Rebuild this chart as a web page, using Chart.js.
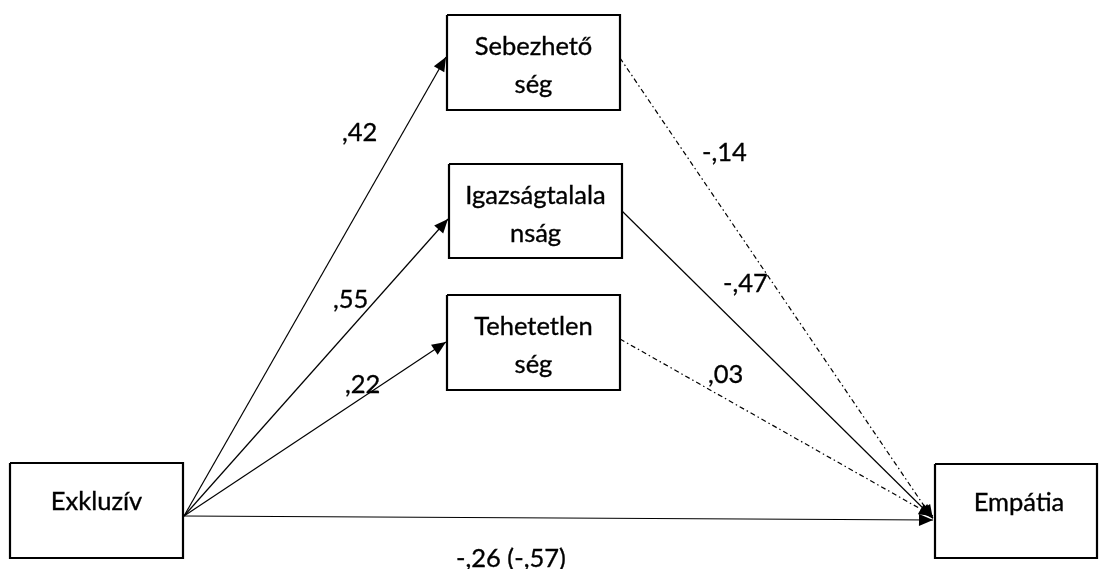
<!DOCTYPE html>
<html>
<head>
<meta charset="utf-8">
<script src="https://cdn.jsdelivr.net/npm/chart.js@4"></script>
<style>
html,body{margin:0;padding:0;background:#fff;}
#c{display:block;}
</style>
</head>
<body>
<canvas id="c" width="1099" height="569"></canvas>
<script>
// ---- data ----
const nodeIds = ['excl', 'seb', 'igaz', 'teh', 'emp'];
const nodeLabels = [['Exkluzív'], ['Sebezhető', 'ség'], ['Igazságtalala', 'nság'], ['Tehetetlen', 'ség'], ['Empátia']];
const pathFrom = ['excl', 'excl', 'excl', 'seb', 'igaz', 'teh', 'excl'];
const pathTo = ['seb', 'igaz', 'teh', 'emp', 'emp', 'emp', 'emp'];
const pathCoef = [',42', ',55', ',22', '-,14', '-,47', ',03', '-,26 (-,57)'];
const pathSignificant = [true, true, true, false, true, false, true];

// ---- layout (diagram coordinates) ----
const boxes = {
  excl: [10, 463, 183, 558],
  seb: [447, 15, 620, 110],
  igaz: [449, 164, 622, 258],
  teh: [447, 295, 620, 390],
  emp: [935, 464, 1097, 558]
};
const pathStart = [[184, 516], [184, 516], [184, 516], [620, 58], [622, 211], [620, 339], [184, 516]];
const pathEnd = [[446, 57], [448, 219], [446, 342], [933, 519], [933, 518], [933, 516], [933, 520]];
const coefPos = [[342, 141], [333, 308], [345, 393], [702, 161], [723, 292], [708, 383], [456, 567]];
const FONT = '25.5px Lato, "Open Sans", sans-serif';

const datasets = [];
nodeIds.forEach(id => {
  const b = boxes[id];
  datasets.push({
    kind: 'box', nodeId: id,
    data: [{x: b[0], y: b[1]}, {x: b[2], y: b[1]}, {x: b[2], y: b[3]}, {x: b[0], y: b[3]}, {x: b[0], y: b[1]}],
    borderColor: '#000', borderWidth: 2.2, showLine: true, pointRadius: 0, fill: false, clip: false
  });
});
pathFrom.forEach((f, i) => {
  datasets.push({
    kind: 'path', idx: i,
    data: [{x: pathStart[i][0], y: pathStart[i][1]}, {x: pathEnd[i][0], y: pathEnd[i][1]}],
    borderColor: '#000', borderWidth: 1.2, showLine: true, pointRadius: 0, fill: false, clip: false,
    borderDash: pathSignificant[i] ? [] : [5, 3, 1.5, 3]
  });
});

const diagramPlugin = {
  id: 'diagram',
  afterDatasetsDraw(chart) {
    const ctx = chart.ctx;
    const xs = chart.scales.x, ys = chart.scales.y;
    ctx.save();
    // arrowheads
    chart.data.datasets.forEach(ds => {
      if (ds.kind !== 'path') return;
      const p0 = ds.data[0], p1 = ds.data[1];
      const x0 = xs.getPixelForValue(p0.x), y0 = ys.getPixelForValue(p0.y);
      const x1 = xs.getPixelForValue(p1.x), y1 = ys.getPixelForValue(p1.y);
      const a = Math.atan2(y1 - y0, x1 - x0);
      const L = 14, W = 6;
      ctx.beginPath();
      ctx.moveTo(x1, y1);
      ctx.lineTo(x1 - L * Math.cos(a) + W * Math.sin(a), y1 - L * Math.sin(a) - W * Math.cos(a));
      ctx.lineTo(x1 - L * Math.cos(a) - W * Math.sin(a), y1 - L * Math.sin(a) + W * Math.cos(a));
      ctx.closePath();
      ctx.fillStyle = '#000';
      ctx.fill();
    });
    // text helper (slight stroke to mimic heavier weight)
    ctx.font = FONT;
    ctx.fillStyle = '#000';
    ctx.strokeStyle = '#000';
    ctx.lineWidth = 0.35;
    ctx.textBaseline = 'alphabetic';
    const put = (t, x, y) => { ctx.fillText(t, x, y); ctx.strokeText(t, x, y); };
    // node labels
    ctx.textAlign = 'center';
    nodeIds.forEach((id, i) => {
      const b = boxes[id];
      const cx = xs.getPixelForValue((b[0] + b[2]) / 2 + (id === 'emp' ? 3 : 0));
      const lines = nodeLabels[i];
      if (lines.length === 1) {
        put(lines[0], cx, ys.getPixelForValue(b[1] + 47));
      } else {
        put(lines[0], cx, ys.getPixelForValue(b[1] + 40));
        put(lines[1], cx, ys.getPixelForValue(b[1] + 78));
      }
    });
    // coefficients
    ctx.textAlign = 'left';
    pathCoef.forEach((t, i) => {
      put(t, xs.getPixelForValue(coefPos[i][0]), ys.getPixelForValue(coefPos[i][1]));
    });
    ctx.restore();
  }
};

function draw() {
  new Chart(document.getElementById('c'), {
    type: 'scatter',
    data: {datasets},
    options: {
      responsive: false,
      animation: false,
      layout: {padding: 0},
      plugins: {legend: {display: false}, tooltip: {enabled: false}},
      scales: {
        x: {type: 'linear', min: 0, max: 1099, display: false},
        y: {type: 'linear', min: 0, max: 569, reverse: true, display: false}
      }
    },
    plugins: [diagramPlugin]
  });
}
if (document.fonts && document.fonts.load) {
  document.fonts.load(FONT).then(draw, draw);
} else { draw(); }
</script>
</body>
</html>
